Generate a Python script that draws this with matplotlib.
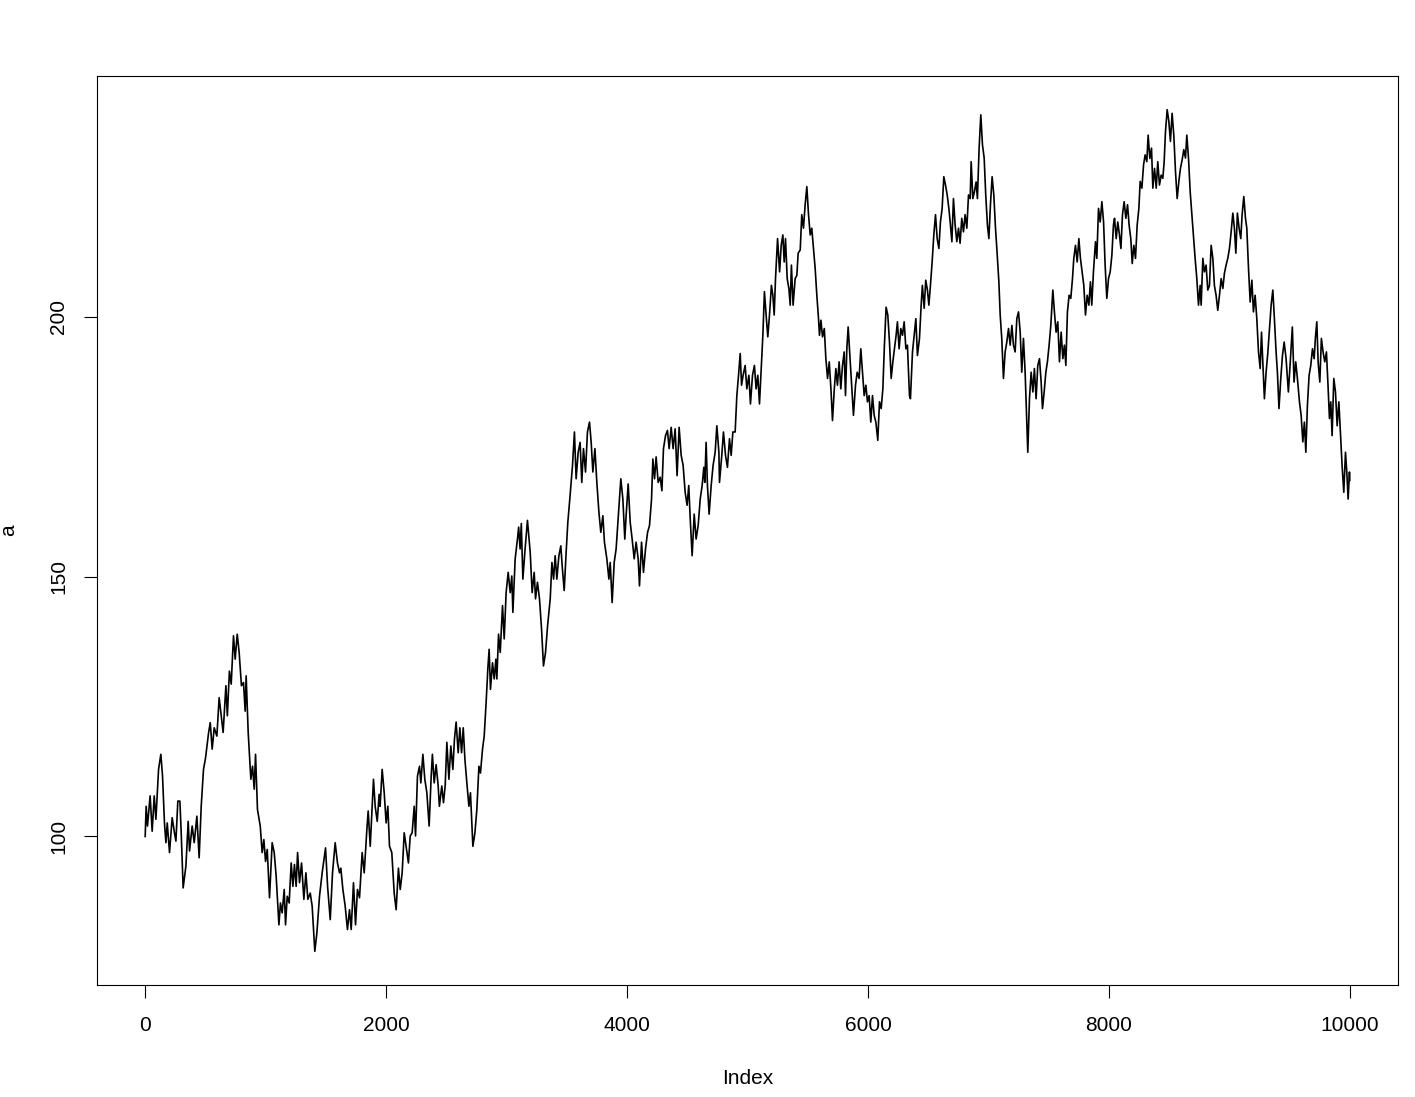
import matplotlib
matplotlib.use("Agg")
import matplotlib.pyplot as plt

plt.rcParams['font.family'] = ['Liberation Sans', 'DejaVu Sans']

# Index positions and values of the series "a"
index = [
    0, 8, 19, 41, 58, 75, 89, 111, 130, 144, 160, 172, 183, 202, 224, 243, 255, 271, 288, 299,
    315, 338, 357, 368, 390, 407, 429, 448, 465, 484, 501, 526, 540, 556, 573, 595, 614, 631, 647, 670,
    682, 699, 714, 733, 747, 764, 780, 799, 816, 830, 838, 855, 877, 891, 905, 916, 932, 955, 971, 985,
    999, 1013, 1032, 1054, 1071, 1087, 1110, 1123, 1137, 1154, 1165, 1179, 1195, 1212, 1226, 1239, 1253, 1265, 1281, 1298,
    1317, 1334, 1350, 1370, 1386, 1408, 1425, 1447, 1469, 1480, 1497, 1514, 1536, 1555, 1577, 1596, 1613,
    1624, 1641, 1660, 1679, 1696, 1710, 1729, 1746, 1762, 1779, 1801, 1818, 1840, 1851, 1868, 1879, 1895, 1909, 1926, 1942,
    1950, 1967, 1984, 2000, 2014, 2028, 2047, 2067, 2083, 2102, 2117, 2133, 2150, 2166, 2185, 2200, 2216, 2233, 2244, 2260,
    2277, 2288, 2305, 2321, 2338, 2357, 2374, 2384, 2399, 2415, 2432, 2442, 2462, 2476, 2490, 2504, 2521, 2537, 2554, 2567,
    2581, 2598, 2612, 2626, 2640, 2654, 2670, 2687, 2700, 2720, 2737, 2753, 2770, 2783, 2800, 2814, 2830, 2844, 2855, 2866,
    2883, 2897, 2911, 2919, 2933, 2947, 2966, 2980, 2996, 3013, 3030, 3043, 3052, 3071, 3090, 3100, 3112, 3122, 3135, 3151,
    3173, 3196, 3212, 3229, 3240, 3256, 3273, 3290, 3306, 3323, 3340, 3362, 3376, 3390, 3403, 3417, 3434, 3450, 3461, 3478,
    3494, 3508, 3527, 3547, 3563, 3577, 3594, 3610, 3624, 3638, 3655, 3671, 3688, 3702, 3716, 3733, 3749, 3766, 3782, 3799,
    3812, 3832, 3849, 3860, 3876, 3893, 3909, 3926, 3948, 3965, 3981, 3992, 4009, 4026, 4042, 4059, 4075, 4092, 4103, 4120,
    4136, 4153, 4170, 4186, 4203, 4214, 4228, 4241, 4258, 4275, 4289, 4302, 4319, 4335, 4349, 4366, 4382, 4399, 4415, 4432,
    4449, 4465, 4482, 4498, 4512, 4524, 4540, 4557, 4573, 4590, 4607, 4623, 4637, 4645, 4656, 4667, 4681, 4698, 4714, 4731,
    4745, 4762, 4767, 4786, 4800, 4817, 4833, 4850, 4864, 4878, 4897, 4911, 4925, 4939, 4950, 4963, 4980, 4994, 5011, 5024,
    5041, 5057, 5071, 5085, 5099, 5113, 5127, 5140, 5154, 5168, 5182, 5198, 5210, 5221, 5232, 5249, 5266, 5279, 5293, 5304,
    5315, 5329, 5343, 5354, 5364, 5378, 5395, 5409, 5420, 5437, 5450, 5464, 5478, 5492, 5506, 5520, 5533, 5547, 5561, 5575,
    5589, 5597, 5609, 5622, 5637, 5650, 5664, 5678, 5692, 5705, 5720, 5733, 5746, 5760, 5774, 5788, 5802, 5813, 5824, 5835,
    5852, 5865, 5879, 5896, 5910, 5926, 5940, 5954, 5968, 5982, 5995, 6009, 6023, 6037, 6051, 6065, 6081, 6095, 6109, 6123,
    6136, 6150, 6164, 6178, 6192, 6206, 6219, 6233, 6244, 6258, 6272, 6286, 6300, 6314, 6327, 6344, 6352, 6369, 6383, 6397,
    6410, 6427, 6441, 6451, 6466, 6479, 6493, 6505, 6518, 6532, 6546, 6560, 6574, 6588, 6601, 6615, 6629, 6643, 6657, 6671,
    6684, 6696, 6709, 6723, 6737, 6751, 6764, 6778, 6792, 6806, 6820, 6834, 6848, 6856, 6870, 6883, 6897, 6908, 6922, 6936,
    6950, 6964, 6977, 6991, 7003, 7016, 7030, 7044, 7058, 7069, 7086, 7097, 7110, 7124, 7138, 7152, 7166, 7180, 7194, 7207,
    7221, 7235, 7249, 7263, 7276, 7290, 7304, 7326, 7340, 7354, 7368, 7381, 7395, 7409, 7423, 7437, 7448, 7462, 7476, 7489,
    7503, 7517, 7534, 7547, 7561, 7575, 7589, 7603, 7617, 7630, 7642, 7655, 7669, 7683, 7697, 7708, 7722, 7736, 7750, 7763,
    7777, 7791, 7805, 7819, 7833, 7846, 7857, 7871, 7888, 7899, 7913, 7927, 7941, 7955, 7968, 7982, 7996, 8010, 8024, 8037,
    8046, 8060, 8073, 8087, 8099, 8112, 8126, 8140, 8154, 8167, 8181, 8193, 8206, 8220, 8234, 8248, 8259, 8273, 8287, 8300,
    8314, 8325, 8339, 8353, 8364, 8378, 8392, 8405, 8419, 8433, 8447, 8458, 8469, 8483, 8497, 8510, 8524, 8538, 8552, 8566,
    8580, 8593, 8607, 8621, 8635, 8646, 8660, 8674, 8688, 8702, 8715, 8729, 8743, 8757, 8765, 8779, 8792, 8806, 8820, 8834,
    8848, 8862, 8875, 8889, 8903, 8917, 8931, 8945, 8958, 8972, 8986, 9000, 9014, 9028, 9041, 9053, 9066, 9080, 9094, 9105,
    9119, 9133, 9144, 9158, 9172, 9186, 9199, 9213, 9227, 9241, 9255, 9266, 9279, 9290, 9304, 9318, 9332, 9346, 9360, 9373,
    9387, 9398, 9411, 9426, 9440, 9454, 9470, 9489, 9503, 9522, 9536, 9550, 9564, 9581, 9595, 9609, 9622, 9634, 9647, 9661,
    9675, 9689, 9703, 9713, 9725, 9736, 9750, 9763, 9777, 9791, 9805, 9818, 9830, 9841, 9852, 9866, 9880, 9894, 9908, 9921,
    9935, 9949, 9963, 9974, 9985, 9996, 9999,
]

a = [
    100, 105.8, 102, 107.8, 101, 107.8, 103.3, 112.9, 115.8, 111.6, 102.6, 98.8, 102.6, 96.9, 103.6, 100.7, 99.1, 106.8, 106.8, 100.7,
    90.1, 94.3, 102.9, 97.2, 102, 98.8, 103.9, 95.9, 105.8, 112.9, 115.1, 119.9, 121.9, 116.8, 120.9, 119.3, 126.7, 123.2, 120, 129,
    123.2, 131.8, 129.3, 138.6, 134.1, 138.9, 135.4, 129, 129.6, 124.1, 130.9, 120, 111, 113.5, 109.1, 115.8, 105.2, 102, 96.9, 99.4,
    95.2, 97.5, 88.2, 98.8, 96.9, 92.4, 83, 87.2, 85.3, 89.8, 83, 88.5, 87.2, 94.9, 90.4, 94.6, 90.4, 96.9, 91.1, 94.9,
    87.9, 93, 87.9, 89.1, 86.6, 77.9, 81.4, 88.5, 93, 94.9, 97.8, 90.4, 84, 93, 98.8, 94.9, 93,
    93.9, 89.8, 86.6, 82.1, 85.9, 82.1, 91.1, 83, 89.8, 88.2, 96.9, 93, 101.3, 104.9, 98.1, 103.3, 111, 105.8, 102.9, 108.1,
    105.8, 112.9, 108.4, 102.6, 105.8, 98.1, 96.9, 89.1, 85.9, 93.9, 89.8, 93, 100.7, 98.1, 94.9, 100.1, 100.7, 105.8, 100.1, 111.6,
    113.5, 110.3, 115.8, 111, 108.4, 102, 111.6, 115.8, 110.3, 113.8, 109.7, 105.8, 109.7, 106.5, 109.7, 118.1, 111, 117.4, 112.9, 118.7,
    122, 116.1, 120.9, 116.1, 120.9, 114.8, 110.3, 105.8, 108.4, 98.1, 100.7, 105.2, 113.5, 112.2, 116.8, 119.3, 125.8, 132.2, 136, 128.3,
    133.4, 130.3, 134.1, 130.3, 138.9, 135.4, 144.4, 138, 146.9, 150.8, 146.9, 150.1, 143.1, 153.4, 157.2, 159.5, 155.3, 160.2, 149.5, 154.6,
    160.8, 154.6, 146.9, 150.8, 145.7, 148.9, 145.7, 139.9, 132.8, 135.4, 140.5, 145.7, 152.7, 149.5, 154, 149.5, 154, 155.9, 152.1, 147.3,
    154.6, 160.4, 165.6, 171.4, 177.8, 168.8, 173.9, 175.8, 168.1, 174.6, 170.1, 177.8, 179.7, 175.8, 170.1, 174.6, 168.1, 162.4, 158.5, 161.7,
    156.6, 153.4, 149.5, 152.7, 145, 152.7, 155.3, 161.1, 168.8, 164.9, 157.2, 161.7, 167.8, 160.4, 157.2, 153.4, 156.6, 153.4, 148.2, 156.6,
    150.8, 155.3, 158.5, 159.8, 164.9, 172.6, 168.8, 173, 168.1, 169.1, 166.5, 174.6, 177.1, 178.1, 174.6, 178.7, 174.6, 178.4, 169.4, 178.7,
    173.3, 171.4, 166.2, 163.7, 167.5, 161.1, 154, 162, 157.2, 159.8, 164.9, 167.5, 171, 168.1, 175.8, 167.5, 162, 167.5, 171.4, 173.9,
    179, 173.9, 168.1, 173.3, 177.8, 173.3, 171, 176.5, 173.3, 177.8, 177.8, 184.8, 188.7, 192.9, 186.8, 188.7, 190.6, 186.1, 188.7, 183.2,
    188.7, 190.6, 186.1, 188.7, 183.2, 190, 196.4, 204.8, 200.3, 196.1, 200.3, 206, 204.1, 200.3, 207.3, 215, 208.6, 213.7, 215.7, 210.5,
    215, 207.3, 205.4, 202.2, 209.9, 202.2, 207.3, 207.9, 212.2, 212.8, 219.6, 217, 221.5, 225, 219.6, 215.7, 217, 213.1, 209.3, 204.1,
    199.6, 196.4, 199.3, 196.1, 197.7, 191.9, 188.1, 191.3, 186.1, 180, 186.1, 190, 186.8, 191.3, 186.1, 190.6, 193.2, 184.8, 193.8, 198,
    191.3, 186.1, 181, 186.8, 189.3, 188.1, 193.8, 189.3, 184.8, 186.8, 183.6, 184.8, 179.7, 184.8, 181, 179.7, 176.2, 183.6, 182.3, 186.1,
    194.5, 201.8, 200.3, 195.1, 188.1, 191.3, 193.8, 196.4, 199, 193.8, 197.7, 196.4, 199, 193.8, 194.5, 184.8, 184.2, 193.2, 196.4, 199.6,
    192.5, 195.8, 202.2, 206, 201.6, 207, 205.1, 202.2, 206, 210.5, 215.7, 219.6, 215, 213.1, 218.2, 220.8, 226.9, 225.3, 223.4, 220.8,
    217.6, 214.4, 222.7, 217.6, 214.4, 217, 214.1, 218.9, 216.3, 219.6, 217, 223.4, 222.7, 229.8, 222.7, 224, 225.9, 222.7, 232.4, 238.8,
    233, 230.5, 223.4, 217.6, 215, 221.5, 226.9, 223.4, 217, 213.1, 206.7, 200.3, 195.8, 188.1, 193.2, 195.1, 197.7, 194.5, 198.3, 194.5,
    193.2, 199.6, 200.9, 197, 189.3, 195.8, 189.3, 173.9, 184.2, 189.3, 185.5, 190, 184.2, 190.6, 191.9, 187.4, 182.3, 185.5, 189.3, 191.3,
    194.5, 198.3, 205.1, 200.9, 197, 199, 191.3, 197, 191.9, 194.5, 190.6, 200.9, 204.1, 203.5, 207.3, 211.2, 213.7, 210.5, 215, 211.2,
    208.6, 206, 200.3, 204.1, 202.2, 206.7, 202.2, 208.6, 214.4, 211.2, 220.8, 218.2, 222.1, 218.2, 209.9, 203.5, 207.3, 208.6, 211.8, 217.6,
    218.9, 215, 218.2, 215.7, 213.1, 219.6, 222.1, 218.9, 221.5, 217.6, 215, 210.2, 213.7, 211.2, 217.6, 220.8, 226, 224.7, 229.2, 231.1,
    229.8, 234.9, 230.4, 232.4, 224.7, 228.5, 224.7, 229.8, 225.3, 227.2, 226.6, 229.8, 235.6, 239.8, 237.5, 233.7, 239.1, 234.9, 227.9, 222.7,
    226, 228.5, 230.1, 232.1, 230.5, 234.9, 230.5, 224, 219.6, 215, 211.2, 207.3, 202.2, 206, 202.2, 211.2, 208.6, 209.9, 205.1, 206,
    213.7, 211.2, 206, 204.1, 201.2, 204.1, 207.3, 205.4, 208.3, 209.9, 211.2, 213.1, 216.3, 219.9, 217, 212.2, 219.9, 217, 215, 219.6,
    223.1, 218.9, 217, 209.3, 202.8, 207, 200.9, 204.1, 199.6, 193.2, 190, 197, 190, 184.2, 189.3, 192.9, 197.7, 202.2, 205.1, 199.6,
    193.2, 189.3, 182.3, 188.1, 192.5, 195.1, 191.9, 185.5, 190.6, 198, 187.4, 191.3, 188.1, 183.6, 181, 175.9, 179.7, 173.9, 182.9, 188.7,
    190.6, 193.8, 191.9, 195.8, 199, 191.3, 187.4, 195.8, 193.2, 191.3, 193.2, 186.8, 180.4, 183.6, 177.1, 188.1, 185.5, 179, 183.6, 177.8,
    171.3, 166.2, 173.9, 170.1, 164.9, 170.1, 168.5,
]

x_ticks = [0, 2000, 4000, 6000, 8000, 10000]
y_ticks = [100, 150, 200]
x_label = "Index"
y_label = "a"

W, H = 1415, 1097
fig = plt.figure(figsize=(W / 100, H / 100), dpi=100)
ax = fig.add_axes([97 / W, 1 - 985 / H, (1398 - 97) / W, (985 - 76) / H])

ax.plot(index, a, color="black", linewidth=1.2)
ax.margins(x=0.04, y=0.04)

ax.set_xticks(x_ticks)
ax.set_xticklabels([str(t) for t in x_ticks])
ax.set_yticks(y_ticks)
ax.set_yticklabels([str(t) for t in y_ticks], rotation=90, va="center")

for s in ax.spines.values():
    s.set_linewidth(0.8)
    s.set_color("black")
ax.tick_params(axis="both", length=9.6, width=0.8, colors="black", labelsize=15)
ax.tick_params(axis="x", pad=13)
ax.tick_params(axis="y", pad=11)

fig.text((97 + 1398) / 2 / W, 1 - 1078 / H, x_label, ha="center", va="center", fontsize=15)
fig.text(9 / W, 1 - 530 / H, y_label, ha="center", va="center", rotation=90, fontsize=15)

fig.savefig("out.png", dpi=100, facecolor="white")
